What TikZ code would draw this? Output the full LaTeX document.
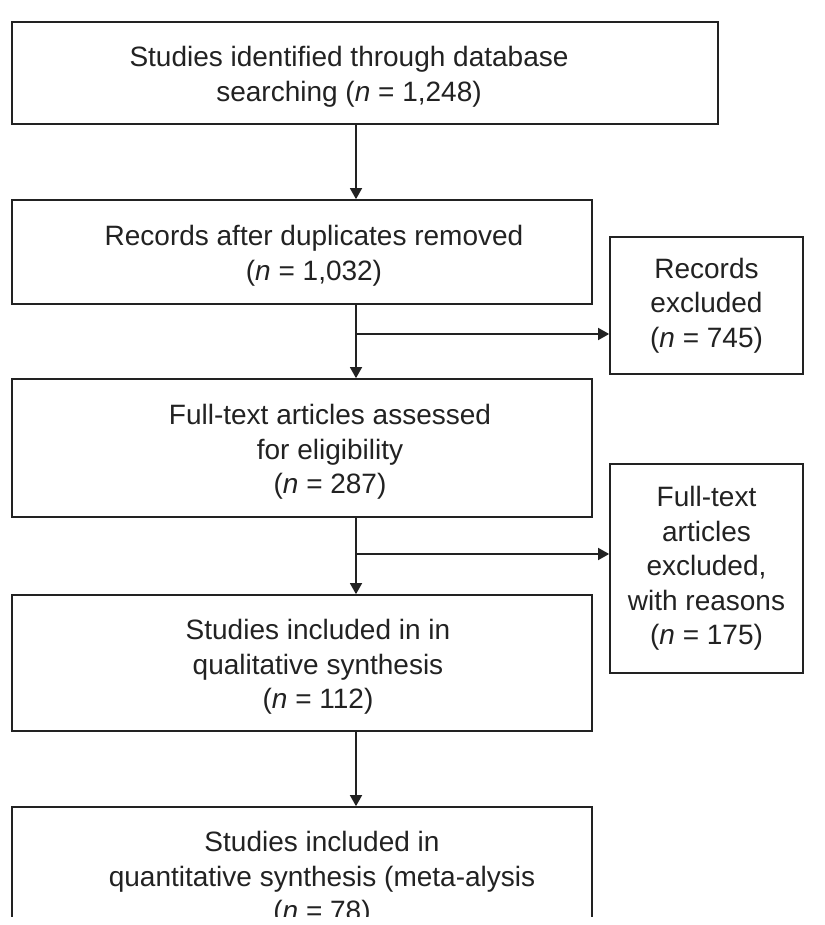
\documentclass[tikz,border=0pt]{standalone}
\usepackage{fontspec}
\setmainfont{Liberation Sans}
\usetikzlibrary{arrows.meta}
\definecolor{ink}{HTML}{222222}
\begin{document}
\begin{tikzpicture}[x=1pt,y=-1pt,
  box/.style={draw=ink, line width=1.7pt, rectangle, inner sep=0pt},
  txt/.style={align=center, inner sep=0pt, text=ink, font=\fontsize{28}{34.5}\selectfont},
  arr/.style={draw=ink, line width=1.5pt, -{Triangle[length=11pt,width=12pt]}},
  ]
\useasboundingbox (0,0) rectangle (824,925);
\fill[white] (0,0) rectangle (824,925);
\clip (0,0) rectangle (824,916);
% main boxes
\node[box, minimum width=706pt, minimum height=102pt] (b1) at (365,73) {};
\node[box, minimum width=580pt, minimum height=104pt] (b2) at (302,252) {};
\node[box, minimum width=580pt, minimum height=138pt] (b3) at (302,448) {};
\node[box, minimum width=580pt, minimum height=136pt] (b4) at (302,663) {};
\node[box, minimum width=580pt, minimum height=192pt] (b5) at (302,903) {};
% texts
\node[txt] (t1) at (349,77) {Studies identified through database\\searching (\textit{n} = 1,248)};
\node[txt] (t2) at (314,256) {Records after duplicates removed\\(\textit{n} = 1,032)};
\node[txt] (t3) at (330,452) {Full-text articles assessed\\for eligibility\\(\textit{n} = 287)};
\node[txt] (t4) at (318,667) {Studies included in in\\qualitative synthesis\\(\textit{n} = 112)};
\node[txt] (t5) at (322,879) {Studies included in\\quantitative synthesis (meta-alysis\\(\textit{n} = 78)};
% side boxes
\node[box, txt, minimum width=193pt, minimum height=137pt] (r1) at (706.5,305.5) {Records\\excluded\\(\textit{n} = 745)};
\node[box, txt, minimum width=193pt, minimum height=209pt] (r2) at (706.5,568.5) {Full-text\\articles\\excluded,\\with reasons\\(\textit{n} = 175)};
% connectors
\coordinate (sp) at (356,0);
\coordinate (j1) at (356,334);
\coordinate (j2) at (356,554);
\draw[arr] (b1.south -| sp) -- (b2.north -| sp);
\draw[arr] (b2.south -| sp) -- (b3.north -| sp);
\draw[arr] (j1) -- (j1 -| r1.west);
\draw[arr] (b3.south -| sp) -- (b4.north -| sp);
\draw[arr] (j2) -- (j2 -| r2.west);
\draw[arr] (b4.south -| sp) -- (b5.north -| sp);
\end{tikzpicture}
\end{document}
